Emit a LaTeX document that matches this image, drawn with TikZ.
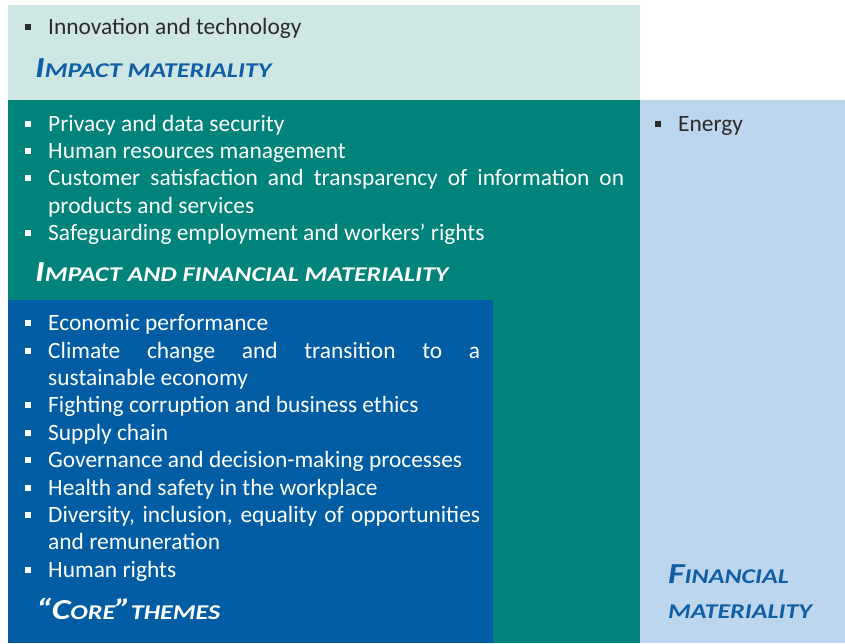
\documentclass[tikz,border=0pt]{standalone}
\usepackage{fontspec}
\setmainfont{Carlito}
\usetikzlibrary{positioning}

\definecolor{matmint}{HTML}{CEE6E4}
\definecolor{matteal}{HTML}{00837A}
\definecolor{matblue}{HTML}{005DA3}
\definecolor{matsky}{HTML}{BDD6EE}
\definecolor{matink}{HTML}{2B2B2B}
\definecolor{mathead}{HTML}{0F5FA6}

%% small caps made by hand: big letters and small letters, a bit widened
\newcommand{\capbig}{\fontsize{29}{29}\selectfont}
\newcommand{\capsmall}{\fontsize{21}{21}\selectfont}
\newcommand{\hd}[1]{\scalebox{1.24}[1]{#1}}
%% bullet item
\newcommand{\itm}{\par\hangindent=23pt\hangafter=1\noindent\makebox[23pt][l]{\raisebox{4.5pt}{\rule{6pt}{6pt}}}}

\tikzset{
    themes/.style={anchor=north west, inner sep=0pt, align=justify,
        font=\fontsize{23.4}{27.4}\selectfont},
    heading/.style={anchor=base west, inner sep=0pt, font=\bfseries\itshape\capsmall}
}

\begin{document}
\begin{tikzpicture}[x=1pt, y=-1pt]
        \useasboundingbox (0,0) rectangle (845,643);

        %% the four fields
        \fill [matmint] (8,5) rectangle (640,100);
        \fill [matteal] (8,100) rectangle (640,643);
        \fill [matsky] (640,100) rectangle (845,643);
        \fill [matblue] (8,300) rectangle (493,643);

        %% impact materiality
        \node [themes, text width=500pt, text=matink] (impact) at (25,6.5) {\itm Innovation and technology};
        \node [heading, text=mathead] (impacthead) at (35,77.5) {\hd{{\capbig I}MPACT MATERIALITY}};

        %% impact and financial materiality
        \node [themes, text width=599pt, text=white] (both) at (25,103.5) {%
            \itm Privacy and data security
            \itm Human resources management
            \itm Customer satisfaction and transparency of information on\linebreak products and services
            \itm Safeguarding employment and workers’ rights};
        \node [heading, text=white] (bothhead) at (35,281) {\hd{{\capbig I}MPACT AND FINANCIAL MATERIALITY}};

        %% core themes
        \node [themes, text width=455pt, text=white] (core) at (25,303) {%
            \itm Economic performance
            \itm Climate change and transition to a\linebreak sustainable economy
            \itm Fighting corruption and business ethics
            \itm Supply chain
            \itm Governance and decision-making processes
            \itm Health and safety in the workplace
            \itm Diversity, inclusion, equality of opportunities\linebreak and remuneration
            \itm Human rights};
        \node [heading, text=white] (corehead) at (36,619) {\hd{{\capbig “C}ORE{\capbig ”}THEMES}};

        %% financial materiality
        \node [themes, text width=160pt, text=matink] (energy) at (655,103.5) {\itm Energy};
        \node [heading, text=mathead] (finhead) at (668,583.5) {\hd{{\capbig F}INANCIAL}};
        \node [heading, text=mathead] (finhead2) at (668,618.5) {\hd{MATERIALITY}};

    \end{tikzpicture}
\end{document}
